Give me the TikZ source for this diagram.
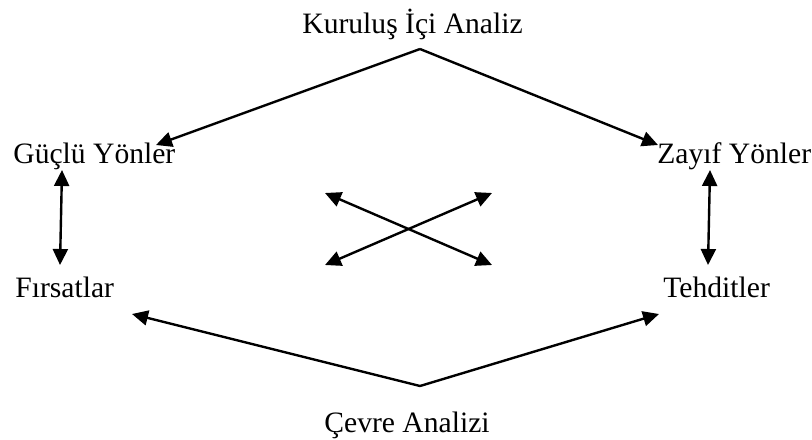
\documentclass[tikz,border=0pt]{standalone}
\usepackage{fontspec}
\setmainfont{Liberation Serif}
\usetikzlibrary{arrows.meta}
\begin{document}
\begin{tikzpicture}[x=0.5pt,y=-0.5pt,
  lbl/.style={inner sep=0pt,anchor=base west,font=\fontsize{14.8}{17}\selectfont},
  tip/.style={},
  conn/.style={line width=1.2pt,-{Triangle[length=8pt,width=7.5pt]}},
  dconn/.style={line width=1.2pt,{Triangle[length=8pt,width=7.5pt]}-{Triangle[length=8pt,width=7.5pt]}}]
\useasboundingbox (0,0) rectangle (812,439);
\node[lbl] (kia) at (302,33) {Kuruluş İçi Analiz};
\node[lbl] (gy) at (13,163) {Güçlü Yönler};
\node[lbl] (zy) at (657,163) {Zayıf Yönler};
\node[lbl] (fr) at (15,297) {Fırsatlar};
\node[lbl] (te) at (663,297) {Tehditler};
\node[lbl] (ca) at (324,432) {Çevre Analizi};
\coordinate (top) at (420,49);
\coordinate (gyt) at (156,145);
\coordinate (zyt) at (658,145);
\coordinate (bot) at (420,386);
\coordinate (frt) at (132,314);
\coordinate (tet) at (659,314);
\coordinate (l1) at (62,170);
\coordinate (l2) at (60,265);
\coordinate (r1) at (710,170);
\coordinate (r2) at (708,265);
\coordinate (c1) at (325,193);
\coordinate (c2) at (492,265);
\coordinate (c3) at (325,265);
\coordinate (c4) at (492,193);
\draw[conn] (top) -- (gyt);
\draw[conn] (top) -- (zyt);
\draw[conn] (bot) -- (frt);
\draw[conn] (bot) -- (tet);
\draw[dconn] (l1) -- (l2);
\draw[dconn] (r1) -- (r2);
\draw[dconn] (c1) -- (c2);
\draw[dconn] (c3) -- (c4);
\end{tikzpicture}
\end{document}
